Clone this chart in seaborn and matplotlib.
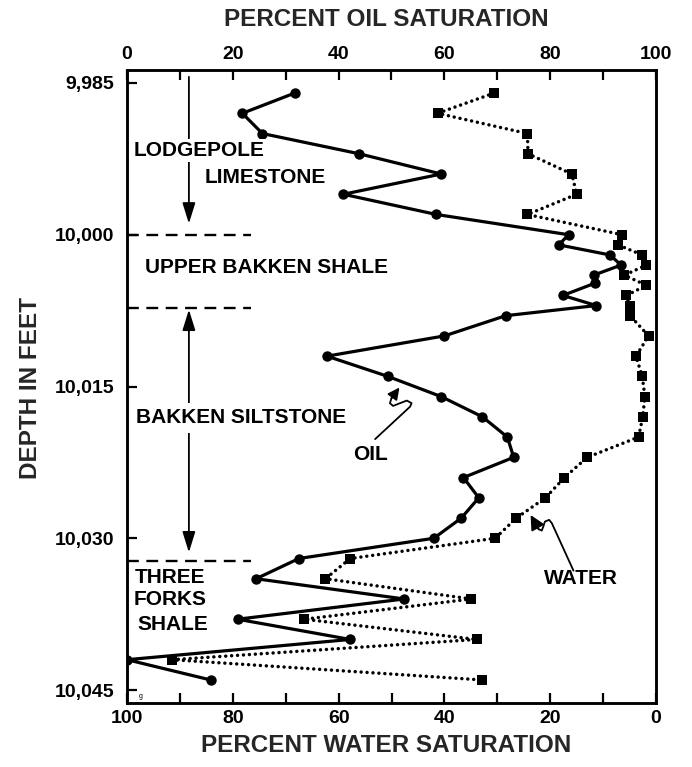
import matplotlib
matplotlib.use("Agg")
import matplotlib.pyplot as plt
import seaborn as sns
import pandas as pd
from matplotlib.ticker import FixedLocator, FuncFormatter, MultipleLocator

# ---------------- data ----------------
oil_depth = [9986, 9988, 9990, 9992, 9994, 9996, 9998, 10000, 10001, 10002,
             10003, 10004, 10004.8, 10006, 10007, 10008, 10010, 10012, 10014,
             10016, 10018, 10020, 10022, 10024, 10026, 10028, 10030, 10032,
             10034, 10036, 10038, 10040, 10042, 10044]
oil_pct = [31.7, 21.8, 25.6, 43.9, 59.4, 40.9, 58.5, 83.5, 81.6, 91.3,
           93.4, 88.2, 88.4, 82.4, 88.7, 71.6, 60.0, 37.8, 49.3,
           59.4, 67.2, 71.9, 73.1, 63.6, 66.5, 63.2, 58.0, 32.5,
           24.4, 52.4, 20.9, 42.2, 0.0, 15.8]

water_depth = [9986, 9988, 9990, 9992, 9994, 9996, 9998, 10000, 10001, 10002,
               10003, 10004, 10005, 10006, 10007, 10008, 10010, 10012, 10014,
               10016, 10018, 10020, 10022, 10024, 10026, 10028, 10030, 10032,
               10034, 10036, 10038, 10040, 10042, 10044]
water_pct = [30.6, 41.3, 24.3, 24.2, 15.9, 15.0, 24.3, 6.4, 7.2, 2.6,
             1.8, 6.0, 1.8, 5.6, 5.0, 4.9, 1.4, 3.8, 2.6,
             2.1, 2.5, 3.3, 13.0, 17.3, 20.9, 26.4, 30.4, 57.8,
             62.5, 34.9, 66.5, 33.9, 91.5, 32.9]

depth_ticks = [9985, 10000, 10015, 10030, 10045]
pct_major = [0, 20, 40, 60, 80, 100]

# formation boundaries (depth)
boundary_depths = [10000, 10007.2, 10032.2]

# ---------------- style ----------------
sns.set_theme(style="white")
plt.rcParams["font.family"] = ["Liberation Sans", "DejaVu Sans"]
plt.rcParams["font.weight"] = "bold"
plt.rcParams["axes.labelweight"] = "bold"

W, H = 692, 767
fig = plt.figure(figsize=(W / 100, H / 100), dpi=100)
ax = fig.add_axes([127 / W, (H - 703) / H, (656 - 127) / W, (703 - 70) / H])
ax_top = ax.twiny()

oil_df = pd.DataFrame({"depth": oil_depth, "oil": oil_pct})
water_df = pd.DataFrame({"depth": water_depth, "water": water_pct})

sns.lineplot(data=water_df, x="water", y="depth", sort=False, estimator=None,
             ax=ax, color="black", linewidth=2.5,
             linestyle=(0, (0.01, 1.7)), dash_capstyle="round",
             marker="s", markersize=6.5, markeredgewidth=0,
             markeredgecolor="black", markerfacecolor="black")
sns.lineplot(data=oil_df, x="oil", y="depth", sort=False, estimator=None,
             ax=ax_top, color="black", linewidth=2.3,
             marker="o", markersize=7.5, markeredgewidth=0,
             markeredgecolor="black", markerfacecolor="black")

ax.set_xlim(100, 0)
ax_top.set_xlim(0, 100)
ax.set_ylim(10046.28, 9983.72)

for a in (ax, ax_top):
    for s in a.spines.values():
        s.set_linewidth(1.8)
        s.set_color("black")
    a.set_xlabel("")
    a.set_ylabel("")

# x ticks
ax.xaxis.set_major_locator(FixedLocator(pct_major))
ax.xaxis.set_minor_locator(MultipleLocator(10))
ax.tick_params(axis="x", which="both", direction="in", length=7, width=1.6,
               bottom=True, top=False, labelsize=14, pad=5, colors="black")
ax_top.xaxis.set_major_locator(FixedLocator(pct_major))
ax_top.xaxis.set_minor_locator(MultipleLocator(10))
ax_top.tick_params(axis="x", which="both", direction="in", length=7, width=1.6,
                   top=True, bottom=False, labelsize=14, pad=5, colors="black")

# y ticks
ax.yaxis.set_major_locator(FixedLocator(depth_ticks))
ax.yaxis.set_major_formatter(FuncFormatter(lambda v, p: f"{int(round(v)):,}"))
ax.tick_params(axis="y", which="major", direction="in", length=7, width=1.6,
               left=True, right=False, labelleft=True, labelsize=14, pad=9,
               colors="black")
ax_top.tick_params(axis="y", which="major", direction="in", length=7, width=1.6,
                   left=False, right=True, labelleft=False, labelright=False)

# axis titles
fig.text(386 / W, 1 - 19 / H, "PERCENT OIL SATURATION", ha="center", va="center",
         fontsize=17.5, fontweight="bold")
fig.text(386 / W, 1 - 746 / H, "PERCENT WATER SATURATION", ha="center", va="center",
         fontsize=17.5, fontweight="bold")
fig.text(31 / W, 1 - 388 / H, "DEPTH IN FEET", ha="center", va="center",
         rotation=90, fontsize=17.5, fontweight="bold")

# ---------------- annotations (in oil % / depth coordinates) ----------------
A = ax_top
lab = dict(fontsize=15, fontweight="bold", color="black", zorder=6)
white = dict(facecolor="white", edgecolor="none", pad=1.5)

for d in boundary_depths:
    A.plot([0, 23.5], [d, d], color="black", lw=1.7, linestyle=(0, (5, 3.2)),
           clip_on=False, zorder=3)

# Lodgepole arrow + labels
A.annotate("", xy=(11.7, 9998.9), xytext=(11.7, 9984.4),
           arrowprops=dict(arrowstyle="-|>,head_length=0.9,head_width=0.28",
                           lw=1.3, color="black", shrinkA=0, shrinkB=0,
                           mutation_scale=14), zorder=3)
A.text(1.3, 9991.7, "LODGEPOLE", ha="left", va="center", bbox=white, **lab)
A.text(14.7, 9994.3, "LIMESTONE", ha="left", va="center", **lab)

A.text(3.4, 10003.2, "UPPER BAKKEN SHALE", ha="left", va="center", **lab)

# Bakken siltstone double arrow
A.annotate("", xy=(11.7, 10031.4), xytext=(11.7, 10007.4),
           arrowprops=dict(arrowstyle="<|-|>,head_length=0.9,head_width=0.28",
                           lw=1.3, color="black", shrinkA=0, shrinkB=0,
                           mutation_scale=14), zorder=3)
A.text(1.7, 10018.1, "BAKKEN SILTSTONE", ha="left", va="center",
       bbox=dict(facecolor="white", edgecolor="none", pad=4), **lab)

A.text(8.1, 10033.9, "THREE", ha="center", va="center", **lab)
A.text(8.1, 10036.1, "FORKS", ha="center", va="center", **lab)
A.text(8.6, 10038.5, "SHALE", ha="center", va="center", **lab)

# OIL label with squiggle arrow
A.text(46.1, 10021.7, "OIL", ha="center", va="center", **lab)
oil_sq_x = [46.9, 53.5, 53.8, 52.9, 51.6, 50.3, 49.7, 50.0]
oil_sq_y = [10020.2, 10017.0, 10016.65, 10016.39, 10016.65, 10016.92, 10016.65, 10016.16]
A.plot(oil_sq_x, oil_sq_y, color="black", lw=1.3, zorder=3,
       solid_joinstyle="round", solid_capstyle="round")
A.annotate("", xy=(51.5, 10015.1), xytext=(oil_sq_x[-1], oil_sq_y[-1]),
           arrowprops=dict(arrowstyle="-|>,head_length=0.7,head_width=0.35",
                           lw=1.3, color="black", shrinkA=0, shrinkB=0,
                           mutation_scale=10), zorder=3)

# WATER label with squiggle arrow
A.text(85.8, 10034.0, "WATER", ha="center", va="center", **lab)
w_sq_x = [84.4, 80.3, 79.8, 79.0, 78.7, 78.4, 77.8]
w_sq_y = [10033.2, 10028.5, 10028.18, 10028.35, 10028.84, 10029.24, 10029.1]
A.plot(w_sq_x, w_sq_y, color="black", lw=1.3, zorder=3,
       solid_joinstyle="round", solid_capstyle="round")
A.annotate("", xy=(76.3, 10027.7), xytext=(w_sq_x[-1], w_sq_y[-1]),
           arrowprops=dict(arrowstyle="-|>,head_length=0.8,head_width=0.4",
                           lw=1.3, color="black", shrinkA=0, shrinkB=0,
                           mutation_scale=11), zorder=3)

A.text(2.5, 10045.6, "g", ha="center", va="center", fontsize=5,
       fontweight="normal", color="black")

fig.savefig("out.png", dpi=100)
